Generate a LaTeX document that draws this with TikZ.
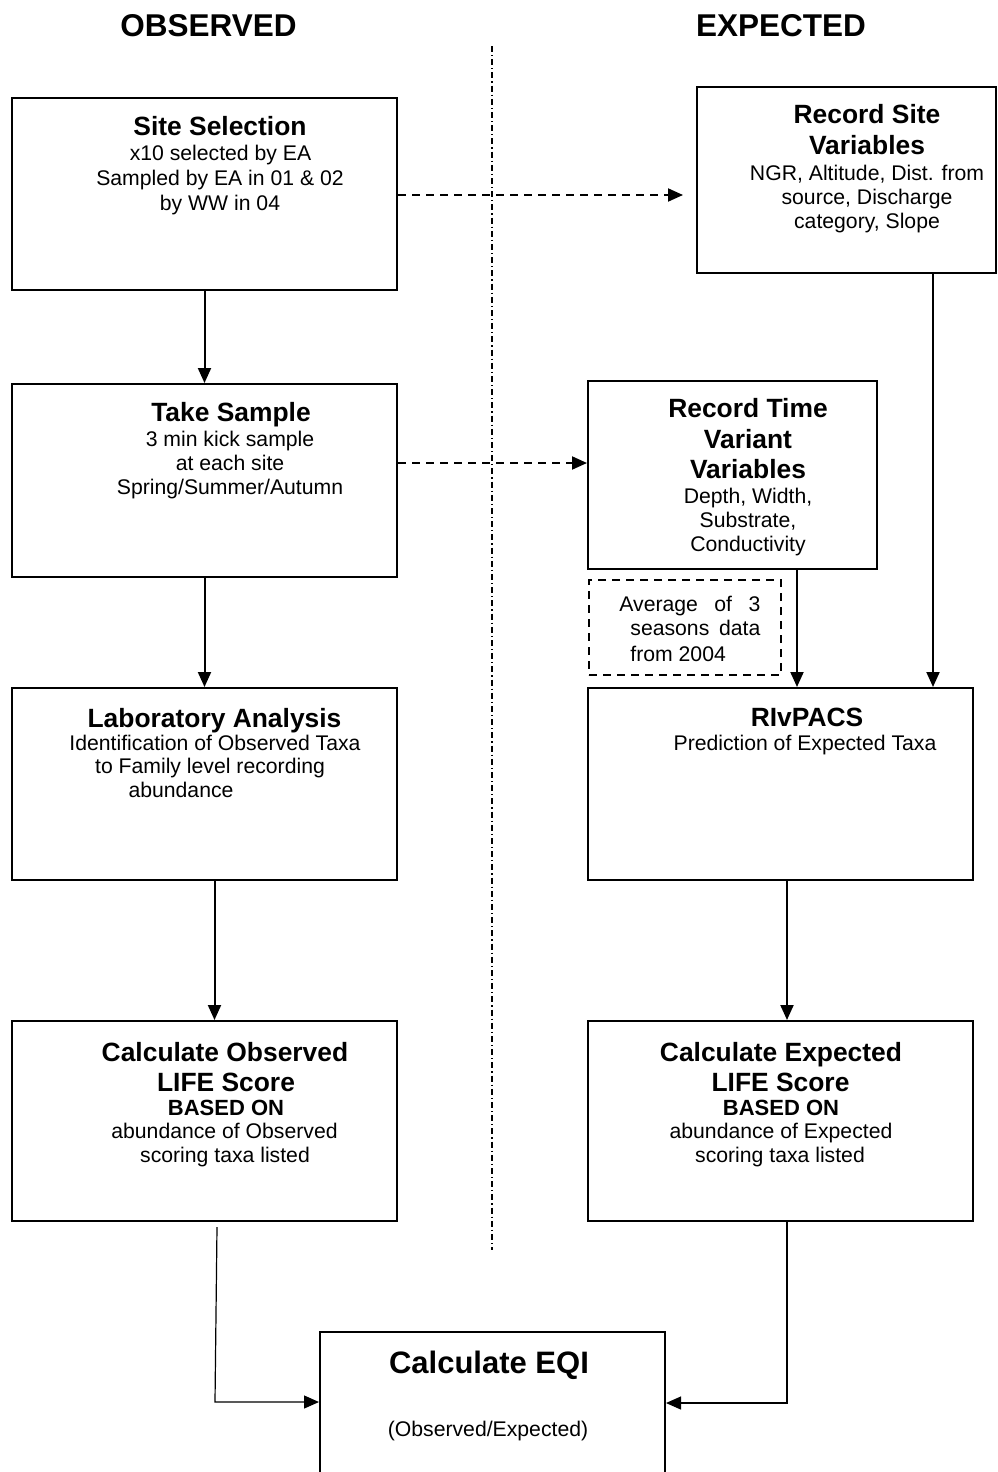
\documentclass[tikz,border=0pt]{standalone}
\usepackage{fontspec}
\setmainfont{Liberation Sans}
\usetikzlibrary{arrows.meta}
\begin{document}
\begin{tikzpicture}[x=0.5pt,y=-0.5pt,
  box/.style 2 args={draw,line width=1pt,inner sep=0pt,minimum width=#1,minimum height=#2},
  dbox/.style 2 args={box={#1}{#2},dash pattern=on 4pt off 3pt},
  arr/.style={line width=1pt,-{Triangle[length=7.5pt,width=6.5pt]}},
  darr/.style={arr,dash pattern=on 4pt off 3pt},
  tarr/.style={line width=0.6pt,-{Triangle[length=7.5pt,width=6.5pt]}},
  t/.style={anchor=base,inner sep=0pt},
  hd/.style={t,font=\fontsize{15.75pt}{18pt}\selectfont\bfseries},
  tb/.style={t,font=\fontsize{13.2pt}{15pt}\selectfont\bfseries},
  tm/.style={t,font=\fontsize{11pt}{13pt}\selectfont\bfseries},
  tn/.style={t,font=\fontsize{10.6pt}{12pt}\selectfont},
  te/.style={t,font=\fontsize{15.5pt}{18pt}\selectfont\bfseries}]
\useasboundingbox (0,0) rectangle (997,1472);
\clip (0,0) rectangle (997,1472);

% headers
\node[hd] (hobs) at (208.5,36) {OBSERVED};
\node[hd] (hexp) at (781,36) {EXPECTED};

% divider
\coordinate (dv1) at (492,46);
\coordinate (dv2) at (492,1250);
\draw[line width=0.8pt,dash pattern=on 3pt off 1.5pt on 0.6pt off 1.5pt] (dv1) -- (dv2);

% boxes
\node[box={192.5pt}{96pt}] (ss) at (204.5,194) {};
\node[box={149.5pt}{93pt}] (rs) at (846.5,180) {};
\node[box={192.5pt}{96.5pt}] (ts) at (204.5,480.5) {};
\node[box={144.5pt}{94pt}] (rt) at (732.5,475) {};
\node[dbox={96pt}{47.5pt}] (avg) at (685,627.5) {};
\node[box={192.5pt}{96pt}] (lab) at (204.5,784) {};
\node[box={192.5pt}{96pt}] (rv) at (780.5,784) {};
\node[box={192.5pt}{100pt}] (co) at (204.5,1121) {};
\node[box={192.5pt}{100pt}] (ce) at (780.5,1121) {};
\node[box={172.5pt}{80pt}] (eqi) at (492.5,1412) {};

% Site Selection
\node[tb] (ss1) at (220,135) {Site Selection};
\node[tn] (ss2) at (220.5,160) {x10 selected by EA};
\node[tn] (ss3) at (220,185) {Sampled by EA in 01 \& 02};
\node[tn] (ss4) at (220,210) {by WW in 04};

% Record Site Variables
\node[tb] (rs1) at (867,123) {Record Site};
\node[tb] (rs2) at (867,154) {Variables};
\node[tn] (rs3) at (867,180) {NGR, Altitude, Dist. from};
\node[tn] (rs4) at (867,204) {source, Discharge};
\node[tn] (rs5) at (867,228) {category, Slope};

% Take Sample
\node[tb] (ts1) at (231,421) {Take Sample};
\node[tn] (ts2) at (230,446) {3 min kick sample};
\node[tn] (ts3) at (230,470) {at each site};
\node[tn] (ts4) at (230,494) {Spring/Summer/Autumn};

% Record Time Variant Variables
\node[tb] (rt1) at (748,417) {Record Time};
\node[tb] (rt2) at (748,448) {Variant};
\node[tb] (rt3) at (748,478) {Variables};
\node[tn] (rt4) at (748,503) {Depth, Width,};
\node[tn] (rt5) at (748,527) {Substrate,};
\node[tn] (rt6) at (748,551) {Conductivity};

% Average box
\node[tn,anchor=base west] (av1) at (619,611) {\hbox to 70.5pt{Average\hfill of\hfill 3}};
\node[tn,anchor=base west] (av2) at (630,635) {\hbox to 65pt{seasons\hfill data}};
\node[tn,anchor=base west] (av3) at (630,661) {from 2004};

% Laboratory Analysis
\node[tb] (lb1) at (214.5,727) {Laboratory Analysis};
\node[tn] (lb2) at (215,750) {Identification of Observed Taxa};
\node[tn] (lb3) at (210,773) {to Family level recording};
\node[tn] (lb4) at (181,797) {abundance};

% RIvPACS
\node[tb] (rv1) at (807,726) {RIvPACS};
\node[tn] (rv2) at (805,750) {Prediction of Expected Taxa};

% Calculate Observed
\node[tb] (co1) at (225,1061) {Calculate Observed};
\node[tb] (co2) at (226,1091) {LIFE Score};
\node[tm] (co3) at (226,1115) {BASED ON};
\node[tn] (co4) at (224.5,1138) {abundance of Observed};
\node[tn] (co5) at (225,1162) {scoring taxa listed};

% Calculate Expected
\node[tb] (ce1) at (781,1061) {Calculate Expected};
\node[tb] (ce2) at (780.5,1091) {LIFE Score};
\node[tm] (ce3) at (781,1115) {BASED ON};
\node[tn] (ce4) at (781,1138) {abundance of Expected};
\node[tn] (ce5) at (780,1162) {scoring taxa listed};

% EQI
\node[te] (eq1) at (489,1373) {Calculate EQI};
\node[tn] (eq2) at (488,1436) {(Observed/Expected)};

% connectors
\draw[arr] (ss.south) -- (ts.north);
\draw[arr] (ts.south) -- (lab.north);
\draw[arr] ([xshift=5pt]lab.south) -- ([xshift=5pt]co.north);

\coordinate (rsin) at (683,195);
\draw[darr] (ss.east |- rsin) -- (rsin);
\coordinate (y2) at (0,463);
\draw[darr] (ts.east |- y2) -- (rt.west |- y2);

\coordinate (x1) at (797,0);
\draw[arr] (rt.south -| x1) -- (rv.north -| x1);
\coordinate (x2) at (933,0);
\draw[arr] (rs.south -| x2) -- (rv.north -| x2);
\coordinate (x3) at (787,0);
\draw[arr] (rv.south -| x3) -- (ce.north -| x3);

\coordinate (l1) at (217,1227);
\coordinate (l2) at (215,1402);
\draw[tarr] (l1) -- (l2) -- (eqi.west |- l2);
\coordinate (r2) at (787,1403);
\draw[tarr] (ce.south -| r2) -- (r2) -- (eqi.east |- r2);
\end{tikzpicture}
\end{document}
